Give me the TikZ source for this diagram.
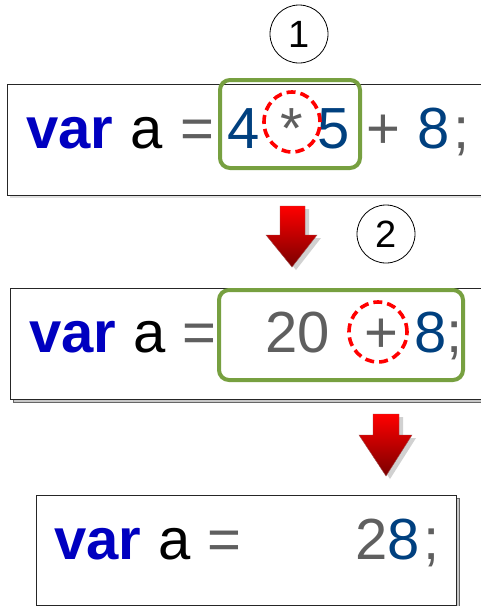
\documentclass[tikz,border=0pt]{standalone}
\usepackage{fontspec}
\setmainfont{Liberation Sans}
\usetikzlibrary{shapes.geometric}
\definecolor{kw}{HTML}{0000C0}
\definecolor{num}{HTML}{00407F}
\definecolor{op}{HTML}{5F5F5F}
\definecolor{grn}{HTML}{77A040}
\definecolor{arrbot}{HTML}{7A0000}
\begin{document}
\begin{tikzpicture}[x=1pt,y=-1pt,
 tok/.style={anchor=base west, inner sep=0pt, font=\fontsize{58}{60}\selectfont},
 codebox/.style={draw=black!85, fill=white, line width=1pt},
 boxshadow/.style={fill=black!22, draw=black!60, line width=0.6pt},
 grp/.style={draw=grn, line width=4pt, rounded corners=10pt},
 focus/.style={draw=red, line width=3.6pt, dash pattern=on 9pt off 5pt, ellipse, inner sep=0pt},
 stepnum/.style={draw, circle, line width=0.8pt, minimum size=58pt, inner sep=0pt, font=\fontsize{38}{40}\selectfont},
 blockarrow/.style={top color=red, bottom color=arrbot, draw=arrbot!70, line width=0.4pt},
 arrshadow/.style={fill=black!18}]
\useasboundingbox (0,0) rectangle (480,606);
\fill[white] (0,0) rectangle (480,606);

% ---- box 1
\fill[black!12] (10,87) rectangle (490,198);
\draw[codebox] (7,84) rectangle (490,195);
\node[tok, text=kw] (v1) at (26,148) {\textbf{var}};
\node[tok] (a1) at (130,148) {a};
\node[tok, text=op] (e1) at (180,148) {=};
\node[tok, text=num] (n41) at (227,148) {4};
\node[tok, text=op, anchor=base] (m1) at (292,148) {*};
\node[tok, text=num] (n51) at (317,148) {5};
\node[tok, text=op] (p1) at (366,148) {+};
\node[tok, text=num] (n81) at (417,148) {8};
\node[tok, text=op] (s1) at (453,148) {;};
\draw[grp] (220,80) rectangle (360,168);
\node[focus, minimum width=56pt, minimum height=60pt] (f1) at (292,122) {};
\node[stepnum] (c1) at (299,34) {1};

% ---- arrow 1
\fill[arrshadow] (284,209) -- (309,209) -- (309,238) -- (321,238) -- (296,270) -- (270,238) -- (284,238) -- cycle;
\path[blockarrow] (280,206) -- (305,206) -- (305,235) -- (317,235) -- (292,267) -- (266,235) -- (280,235) -- cycle;
\node[stepnum] (c2) at (386,234) {2};

% ---- box 2
\path[boxshadow] (13,291) rectangle (490,402);
\draw[codebox] (10,288) rectangle (490,399);
\node[tok, text=kw] (v2) at (29,352) {\textbf{var}};
\node[tok] (a2) at (133,352) {a};
\node[tok, text=op] (e2) at (182,352) {=};
\node[tok, text=op] (n202) at (265,352) {20};
\node[tok, text=op] (p2) at (364,352) {+};
\node[tok, text=num] (n82) at (414,352) {8};
\node[tok, text=op] (s2) at (446,352) {;};
\draw[grp] (219,290) rectangle (463,380);
\node[focus, minimum width=58pt, minimum height=60pt] (f2) at (378,332) {};

% ---- arrow 2
\fill[arrshadow] (377,417) -- (403,417) -- (403,438) -- (416,438) -- (390,479) -- (363,438) -- (377,438) -- cycle;
\path[blockarrow] (373,414) -- (399,414) -- (399,435) -- (412,435) -- (386,476) -- (359,435) -- (373,435) -- cycle;

% ---- box 3
\path[boxshadow] (39,498) rectangle (459,609);
\draw[codebox] (36,495) rectangle (456,605);
\node[tok, text=kw] (v3) at (54,559) {\textbf{var}};
\node[tok] (a3) at (158,559) {a};
\node[tok, text=op] (e3) at (207,559) {=};
\node[tok, text=op] (n23) at (355,559) {2};
\node[tok, text=num] (n83) at (387,559) {8};
\node[tok, text=op] (s3) at (423,559) {;};
\end{tikzpicture}
\end{document}
